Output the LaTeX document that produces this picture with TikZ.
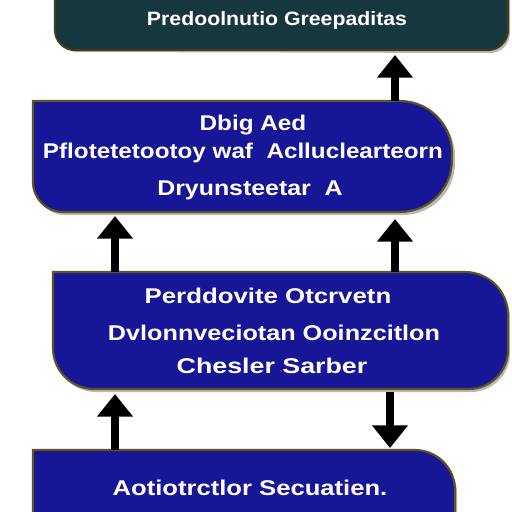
\documentclass[tikz,border=0pt]{standalone}
\usepackage{fontspec}
\usepackage{graphicx}
\setmainfont{Liberation Sans}
\usetikzlibrary{arrows.meta}
\definecolor{navybox}{RGB}{22,22,150}
\definecolor{tealbox}{RGB}{22,55,62}
\definecolor{rimcol}{RGB}{95,85,35}
\newcommand{\fitline}[2]{\resizebox{#1}{\height}{#2}}
\tikzset{
  boxfill/.style={fill=navybox, draw=rimcol, line width=1.6pt},
  tealfill/.style={fill=tealbox, draw=rimcol!70!black, line width=1.6pt},
  shade/.style={fill=black!55, draw=none, opacity=0.5},
  lbl/.style={text=white, font=\fontsize{16}{18}\selectfont\bfseries, inner sep=0pt, anchor=center},
  lbltop/.style={lbl, font=\fontsize{14.5}{16}\selectfont\bfseries},
  arr/.style={line width=5.5pt, -{Triangle[width=26pt,length=17pt]}, black}
}
\begin{document}
\begin{tikzpicture}[x=0.75pt,y=-0.75pt]
\useasboundingbox (0,0) rectangle (512,512);
\fill[white] (0,0) rectangle (512,512);
% box 1 (teal, top)
\fill[shade] (57,-10) -- (57,32) arc (180:90:20) -- (490,53) arc (90:0:20) -- (510,-10) -- cycle;
\draw[tealfill] (55,-10) -- (55,30) arc (180:90:20) -- (488,50) arc (90:0:20) -- (508,-10) -- cycle;
% box 2
\fill[shade] (35,104) -- (403,104) arc (270:360:52) -- (455,163) arc (0:90:52) -- (65,215) arc (90:180:30) -- cycle;
\draw[boxfill] (33,101) -- (400,101) arc (270:360:52) -- (452,160) arc (0:90:52) -- (63,212) arc (90:180:30) -- cycle;
% box 3
\fill[shade] (55,275) -- (467,275) arc (270:360:43) -- (510,353) arc (0:90:39) -- (96,392) arc (90:180:41) -- cycle;
\draw[boxfill] (53,272) -- (465,272) arc (270:360:43) -- (508,350) arc (0:90:39) -- (94,389) arc (90:180:41) -- cycle;
% box 4
\fill[shade] (35,453) -- (417,453) arc (270:360:40) -- (457,520) -- (35,520) -- cycle;
\draw[boxfill] (33,450) -- (415,450) arc (270:360:40) -- (455,520) -- (33,520) -- cycle;
% texts
\node[lbltop] (t1) at (277,20) {\fitline{195pt}{Predoolnutio Greepaditas}};
\node[lbl] (t2a) at (253,125) {\fitline{80pt}{Dbig Aed}};
\node[lbl] (t2b) at (243,153) {\fitline{300pt}{Pflotetetootoy waf\ \ Aclluclearteorn}};
\node[lbl] (t2c) at (250,190) {\fitline{139pt}{Dryunsteetar\ \ A}};
\node[lbl] (t3a) at (268,296) {\fitline{185pt}{Perddovite Otcrvetn}};
\node[lbl] (t3b) at (274,333) {\fitline{249pt}{Dvlonnveciotan Ooinzcitlon}};
\node[lbl] (t3c) at (272,366) {\fitline{143pt}{Chesler Sarber}};
\node[lbl] (t4) at (250,488) {\fitline{206pt}{Aotiotrctlor Secuatien.}};
% connector end points on box edges
\coordinate (b1r) at (395,55);
\coordinate (b2tr) at (395,101);
\coordinate (b2bl) at (115,216);
\coordinate (b2br) at (395,219);
\coordinate (b3tl) at (115,272);
\coordinate (b3tr) at (395,272);
\coordinate (b3bl) at (115,394);
\coordinate (b3br) at (390,392);
\coordinate (b4tl) at (115,450);
\coordinate (b4tr) at (390,448);
% arrows
\draw[arr] (b2tr) -- (b1r);
\draw[arr] (b3tl) -- (b2bl);
\draw[arr] (b3tr) -- (b2br);
\draw[arr] (b4tl) -- (b3bl);
\draw[arr] (b3br) -- (b4tr);
\end{tikzpicture}
\end{document}
